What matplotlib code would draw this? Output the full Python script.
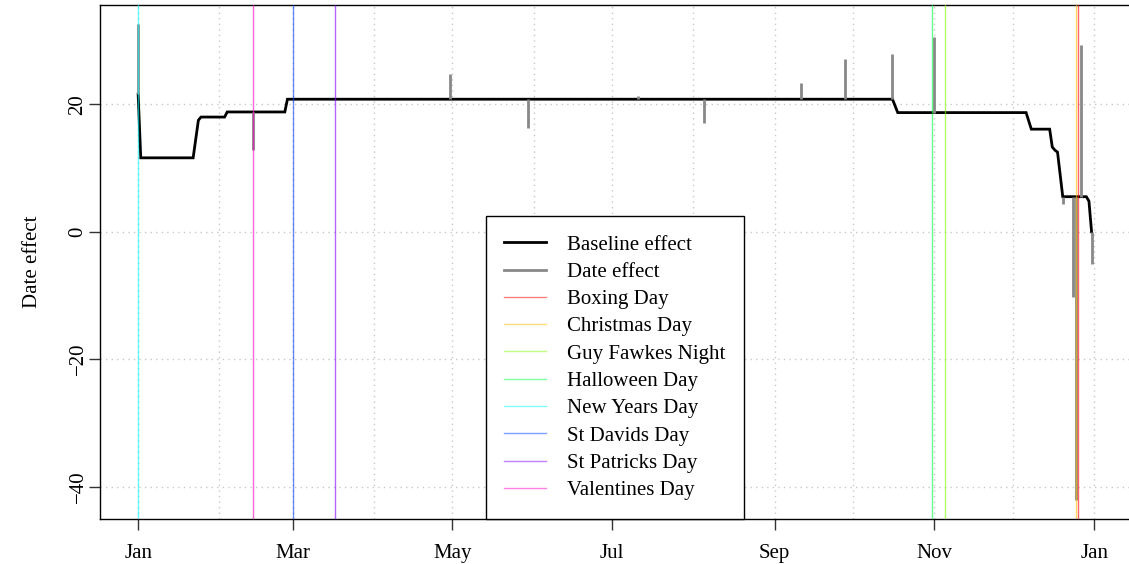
import numpy as np
import matplotlib
matplotlib.use("Agg")
import matplotlib.pyplot as plt
import matplotlib.dates as mdates
from matplotlib.lines import Line2D

# baseline effect: level changes through the year
baseline_dates = ["2015-01-01", "2015-01-02", "2015-01-22", "2015-01-24", "2015-01-25",
                  "2015-02-03", "2015-02-04", "2015-02-26", "2015-02-27", "2015-10-16",
                  "2015-10-18", "2015-12-06", "2015-12-08", "2015-12-15", "2015-12-16",
                  "2015-12-17", "2015-12-18", "2015-12-20", "2015-12-29", "2015-12-30",
                  "2015-12-31"]
baseline_values = [21.6, 11.6, 11.6, 17.5, 18.0,
                   18.0, 18.8, 18.8, 20.8, 20.8,
                   18.7, 18.7, 16.1, 16.1, 13.3,
                   12.8, 12.5, 5.5, 5.5, 4.8,
                   0.0]

# individual date effects, relative to the baseline
effect_dates = ["2015-01-01", "2015-02-14", "2015-04-30", "2015-05-30", "2015-07-11",
                "2015-08-05", "2015-09-11", "2015-09-28", "2015-10-16", "2015-11-01",
                "2015-12-20", "2015-12-24", "2015-12-25", "2015-12-27", "2015-12-31"]
effect_values = [11.0, -6.0, 3.9, -4.5, 0.5,
                 -3.7, 2.5, 6.3, 7.1, 11.8,
                 -1.2, -15.8, -47.6, 23.8, -5.1]

holiday_names = ["Boxing Day", "Christmas Day", "Guy Fawkes Night", "Halloween Day",
                 "New Years Day", "St Davids Day", "St Patricks Day", "Valentines Day"]
holiday_dates = ["2015-12-26", "2015-12-25", "2015-11-05", "2015-10-31",
                 "2015-01-01", "2015-03-01", "2015-03-17", "2015-02-14"]
holiday_colors = ["#FF0000", "#FFBF00", "#80FF00", "#00FF40",
                  "#00FFFF", "#0040FF", "#8000FF", "#FF00BF"]

plt.rcParams['font.family'] = ['Liberation Serif', 'DejaVu Serif']
plt.rcParams['font.size'] = 15

bx = mdates.date2num(np.array(baseline_dates, dtype="datetime64[D]"))
by = np.array(baseline_values)
ex = mdates.date2num(np.array(effect_dates, dtype="datetime64[D]"))
ebase = np.interp(ex, bx, by)
etop = ebase + np.array(effect_values)
hx = mdates.date2num(np.array(holiday_dates, dtype="datetime64[D]"))

fig = plt.figure(figsize=(11.29, 5.64), dpi=100)
ax = fig.add_axes([100 / 1129, 1 - 519 / 564, 1029.7 / 1129, 514 / 564])

# R-style 4% padding around the data range
x0, x1 = bx.min(), bx.max()
ax.set_xlim(x0 - 0.04 * (x1 - x0), x1 + 0.04 * (x1 - x0))
y0 = min(by.min(), etop.min(), ebase.min())
y1 = max(by.max(), etop.max(), ebase.max())
ax.set_ylim(y0 - 0.04 * (y1 - y0), y1 + 0.04 * (y1 - y0))

# dotted grid: every month and every y tick
month_starts = mdates.date2num(np.arange("2015-01", "2016-02", dtype="datetime64[M]").astype("datetime64[D]"))
grid_kw = dict(color="#c8c8c8", lw=1, linestyle=(0, (1, 3)), zorder=0)
for m in month_starts:
    ax.axvline(m, **grid_kw)
yt = [-40, -20, 0, 20]
for v in yt:
    ax.axhline(v, **grid_kw)

ax.plot(bx, by, color="black", lw=2, zorder=3, solid_joinstyle="miter")
ax.vlines(ex, ebase, etop, color="#888888", lw=2, zorder=4)

for d, c in zip(hx, holiday_colors):
    ax.axvline(d, color=c, alpha=0.6, lw=1, zorder=5)

tick_months = month_starts[::2]
ax.set_xticks(tick_months)
ax.set_xticklabels(["Jan", "Mar", "May", "Jul", "Sep", "Nov", "Jan"])
ax.set_yticks(yt)
ax.set_yticklabels(["\u221240", "\u221220", "0", "20"], rotation=90, va="center")
ax.tick_params(direction="out", length=8, width=1, color="#333333")
ax.tick_params(axis="x", pad=10)
ax.tick_params(axis="y", pad=1)
ax.set_ylabel("Date effect", labelpad=19)
for s in ax.spines.values():
    s.set_linewidth(1)

handles = [Line2D([], [], color="black", lw=2), Line2D([], [], color="#888888", lw=2)]
handles += [Line2D([], [], color=c, alpha=0.5, lw=1) for c in holiday_colors]
labels = ["Baseline effect", "Date effect"] + holiday_names
leg = ax.legend(handles, labels, loc="lower center", bbox_to_anchor=(0.5, 0), borderaxespad=0,
                fancybox=False, framealpha=1, edgecolor="black", handlelength=2.0,
                handletextpad=1.0, labelspacing=0.37, borderpad=0.9)
leg.get_frame().set_linewidth(1)
leg.set_zorder(10)

fig.savefig("out.png", dpi=100)
